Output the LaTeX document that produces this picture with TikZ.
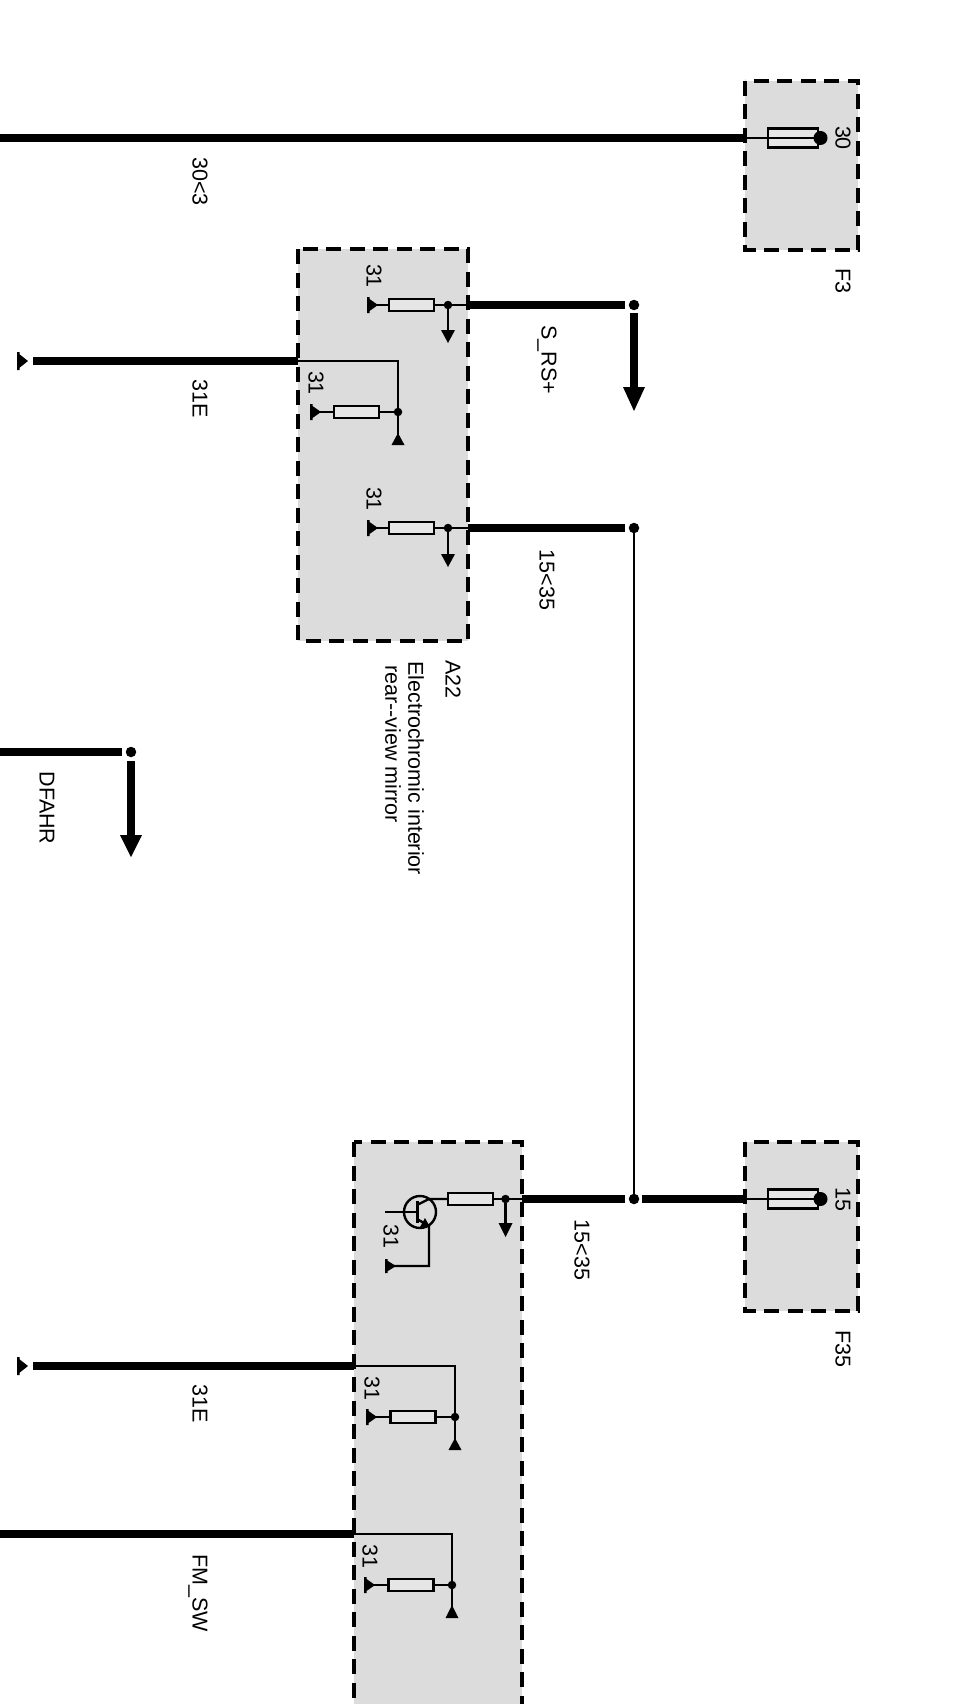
\documentclass[tikz,border=0pt]{standalone}
\usepackage{fontspec}
\setmainfont{Liberation Sans}
\tikzset{
  unit/.style={draw=black,line width=4.4pt,dash pattern=on 15pt off 8.5pt,fill=boxgrey},
  hv/.style={draw=black,line width=7.8pt},
  thinw/.style={draw=black,line width=2.4pt},
  hair/.style={draw=black,line width=1.5pt},
  lbl/.style={rotate=-90,font=\fontsize{21.5}{24}\selectfont,inner sep=0pt},
  res/.style={draw=black,line width=2.4pt,fill=resfill,minimum width=45pt,minimum height=12pt,inner sep=0pt},
  fuse/.style={draw=black,line width=2.4pt,fill=resfill,minimum width=50pt,minimum height=19pt,inner sep=0pt},
  dotn/.style={circle,fill=black,minimum size=10.5pt,inner sep=0pt},
  smalldot/.style={circle,fill=black,minimum size=8.5pt,inner sep=0pt}
}
\definecolor{boxgrey}{HTML}{DCDCDC}
\definecolor{resfill}{HTML}{E6E6E6}
% ground flag: bar on the left, triangle pointing right
\newcommand{\gndflag}[3]{\fill[black] (#1,#2-#3) -- (#1+2.5,#2-#3) -- (#1+2.5,#2-#3*0.75) -- (#1+11,#2) -- (#1+2.5,#2+#3*0.75) -- (#1+2.5,#2+#3) -- (#1,#2+#3) -- cycle;}
% down arrow head
\newcommand{\headdown}[4]{\fill[black] (#1-#4,#2) -- (#1+#4,#2) -- (#1,#3) -- cycle;}
% up triangle
\newcommand{\trup}[3]{\fill[black] (#1-6.5,#3) -- (#1+6.5,#3) -- (#1,#2) -- cycle;}
% fuse end blob
\newcommand{\blob}[2]{\fill[black] (#1,#2-7) rectangle (#1+3,#2+7); \fill[black] (#1+2.5,#2) circle[radius=7];}
\begin{document}
\begin{tikzpicture}[x=1pt,y=-1pt]
\useasboundingbox (0,0) rectangle (962,1704);
% ---- boxes
\path[unit] (745,81) rectangle (858,250);
\path[unit] (298,249) rectangle (468,641);
\path[unit] (745,1142) rectangle (858,1311);
\begin{scope}
\clip (0,0) rectangle (962,1704);
\path[unit] (354,1142) rectangle (522,1730);
\end{scope}

% ---- F3
\coordinate (w30) at (0,138);
\coordinate (f3in) at (745,138);
\node[fuse] (fuse3) at (793,138) {};
\draw[hv] (w30) -- (f3in);
\draw[thinw] (f3in) -- (fuse3.east);
\blob{818}{138}
\node[lbl] (t30) at (843,138) {30};
\node[lbl] (tF3) at (843,281) {F3};
\node[lbl] (t303) at (200,181.5) {30<3};

% ---- A22 top
\coordinate (g1) at (367,305);
\node[res] (r1) at (411.5,305) {};
\node[smalldot] (d1) at (448,305) {};
\coordinate (a1) at (468,305);
\node[dotn] (e1) at (634,305) {};
\coordinate (a1t) at (448,332);
\coordinate (a1s) at (634,313);
\coordinate (a1e) at (634,392);
\gndflag{367}{305}{8}
\draw[thinw] (g1) -- (r1) (r1) -- (a1) (d1) -- (a1t);
\headdown{448}{330}{343}{7}
\draw[hv] (a1) -- (625,305);
\draw[hv] (a1s) -- (a1e);
\headdown{634}{387}{411}{11}
\node[lbl] (t31a) at (374,276) {31};
\node[lbl] (tsrs) at (547,360) {S\_RS+};

% ---- A22 middle
\coordinate (g2) at (310,412);
\node[res] (r2) at (356.5,412) {};
\node[smalldot] (d2) at (398,412) {};
\coordinate (b2) at (298,361);
\coordinate (c2) at (398,361);
\coordinate (t2) at (398,436);
\gndflag{310}{412}{8}
\draw[thinw] (g2) -- (r2) (r2) -- (d2);
\draw[thinw] (b2) -- (c2) -- (d2) -- (t2);
\trup{398}{433}{445}
\gndflag{17}{361}{9}
\draw[hv] (33,361) -- (b2);
\node[lbl] (t31b) at (316,383) {31};
\node[lbl] (t31e1) at (200,399) {31E};

% ---- A22 lower
\coordinate (g3) at (367,528);
\node[res] (r3) at (411.5,528) {};
\node[smalldot] (d3) at (448,528) {};
\coordinate (a3) at (468,528);
\node[dotn] (e3) at (634,528) {};
\coordinate (a3t) at (448,555);
\gndflag{367}{528}{8}
\draw[thinw] (g3) -- (r3) (r3) -- (a3) (d3) -- (a3t);
\headdown{448}{554}{567}{7}
\draw[hv] (a3) -- (625,528);
\node[lbl] (t31c) at (374,499) {31};
\node[lbl] (t1535a) at (547,580) {15<35};

% ---- A22 caption
\node[lbl,anchor=west] (tA22) at (453,660) {A22};
\node[lbl,anchor=west] (tel) at (416,661) {Electrochromic interior};
\node[lbl,anchor=west] (trv) at (393,665) {rear-{}-view mirror};

% ---- DFAHR
\node[dotn] (e4) at (131,752) {};
\draw[hv] (0,752) -- (122,752);
\draw[hv] (131,761) -- (131,840);
\headdown{131}{835}{857}{11}
\node[lbl] (tdf) at (47,808) {DFAHR};

% ---- connection
\node[dotn] (e5) at (634,1199) {};
\draw[hair] (e3) -- (e5);

% ---- F35
\node[fuse] (fuse35) at (793,1199) {};
\coordinate (f35in) at (745,1199);
\draw[hv] (642,1199) -- (f35in);
\draw[thinw] (f35in) -- (fuse35.east);
\blob{818}{1199}
\node[lbl] (t15) at (843,1199) {15};
\node[lbl] (tF35) at (843,1349) {F35};

% ---- lower unit: transistor
\node[res] (r4) at (470.5,1199) {};
\node[smalldot] (d4) at (505.5,1199) {};
\coordinate (a4) at (522,1199);
\coordinate (q) at (420,1212);
\draw[hv] (a4) -- (625,1199);
\draw[thinw] (r4) -- (a4) (d4) -- (505.5,1225);
\headdown{505.5}{1223}{1237}{7}
\draw[thinw] (q) circle[radius=16];
\draw[thinw] (385,1212) -- (417,1212);
\draw[line width=3pt] (417,1201) -- (417,1223);
\draw[thinw] (417,1205) -- (429,1199) -- (r4);
\draw[thinw] (417,1219) -- (429,1226) -- (429,1266) -- (386,1266);
\fill[black] (420,1227) -- (430,1227) -- (425,1218) -- cycle;
\gndflag{385}{1266}{7}
\node[lbl] (t31d) at (391,1236) {31};
\node[lbl] (t1535b) at (582,1250) {15<35};

% ---- lower unit: 31E
\coordinate (b5) at (354,1366);
\coordinate (c5) at (455,1366);
\node[smalldot] (d5) at (455,1417) {};
\node[res] (r5) at (413,1417) {};
\coordinate (t5) at (455,1440);
\coordinate (g5) at (366,1417);
\draw[hv] (33,1366) -- (b5);
\gndflag{17}{1366}{9}
\draw[thinw] (b5) -- (c5) -- (d5) -- (t5) (r5) -- (d5) (g5) -- (r5);
\trup{455}{1438}{1450}
\gndflag{366}{1417}{8}
\node[lbl] (t31f) at (372,1388) {31};
\node[lbl] (t31e2) at (200,1404) {31E};

% ---- lower unit: FM_SW
\coordinate (b6) at (354,1534);
\coordinate (c6) at (452,1534);
\node[smalldot] (d6) at (452,1585) {};
\node[res] (r6) at (411,1585) {};
\coordinate (t6) at (452,1607);
\coordinate (g6) at (364,1585);
\draw[hv] (0,1534) -- (b6);
\draw[thinw] (b6) -- (c6) -- (d6) -- (t6) (r6) -- (d6) (g6) -- (r6);
\trup{452}{1605}{1618}
\gndflag{364}{1585}{8}
\node[lbl] (t31g) at (370,1556) {31};
\node[lbl] (tfm) at (198,1593) {FM\_SW};
\end{tikzpicture}
\end{document}
